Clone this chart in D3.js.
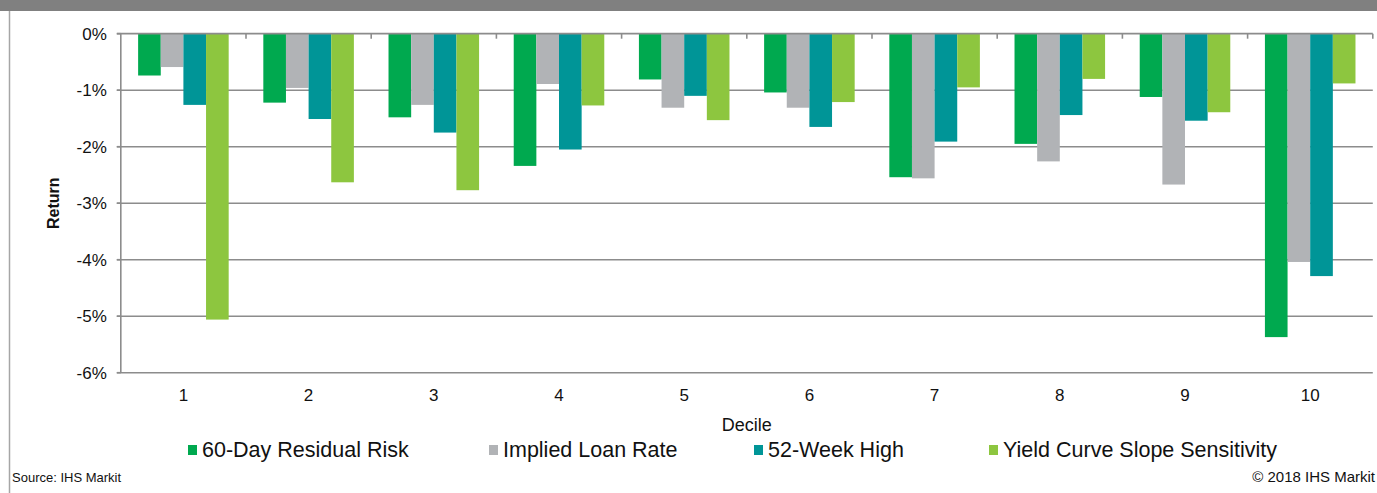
<!DOCTYPE html>
<html>
<head>
<meta charset="utf-8">
<script src="https://cdn.jsdelivr.net/npm/d3@7"></script>
<style>
  body { margin: 0; background: #fff; }
  text { font-family: "Liberation Sans", Arial, sans-serif; fill: #111; }
</style>
</head>
<body>
<div class="chart"></div>
<script>
var svgWidth = 1377;
var svgHeight = 493;

// data (returns in %)
var deciles = ["1", "2", "3", "4", "5", "6", "7", "8", "9", "10"];
var seriesNames = ["60-Day Residual Risk", "Implied Loan Rate", "52-Week High", "Yield Curve Slope Sensitivity"];
var seriesColors = ["#00a94f", "#b1b3b6", "#009597", "#8dc63f"];
var residualRisk = [-0.74, -1.22, -1.48, -2.34, -0.81, -1.04, -2.54, -1.95, -1.12, -5.37];
var impliedLoanRate = [-0.59, -0.96, -1.26, -0.89, -1.31, -1.31, -2.56, -2.26, -2.67, -4.04];
var weekHigh52 = [-1.26, -1.51, -1.75, -2.05, -1.10, -1.65, -1.91, -1.44, -1.54, -4.29];
var yieldCurve = [-5.06, -2.63, -2.77, -1.27, -1.53, -1.21, -0.95, -0.80, -1.39, -0.88];
var yTicks = [0, -1, -2, -3, -4, -5, -6];

var allSeries = [residualRisk, impliedLoanRate, weekHigh52, yieldCurve];

var plotLeft = 120.8, plotRight = 1372.8;
var plotTop = 33.7, plotBottom = 372.7;

var svg = d3.select(".chart")
  .append("svg")
  .attr("width", svgWidth)
  .attr("height", svgHeight);

// header band (title cut off at top)
svg.append("rect")
  .attr("x", 0).attr("y", 0)
  .attr("width", svgWidth).attr("height", 11)
  .attr("fill", "#808080");

// left frame line
svg.append("line")
  .attr("x1", 9.5).attr("x2", 9.5)
  .attr("y1", 11).attr("y2", svgHeight)
  .attr("stroke", "#a6a6a6").attr("stroke-width", 1.5);

// scales
var x = d3.scaleBand()
  .domain(deciles)
  .range([plotLeft, plotRight])
  .padding(0);

var xInner = d3.scaleBand()
  .domain(d3.range(seriesNames.length))
  .range([0, x.bandwidth()])
  .paddingInner(0)
  .paddingOuter(0.765);

var y = d3.scaleLinear()
  .domain([0, -6])
  .range([plotTop, plotBottom]);

// gridlines
svg.append("g")
  .selectAll("line")
  .data(yTicks.filter(d => d !== 0))
  .enter()
  .append("line")
  .attr("x1", plotLeft - 4)
  .attr("x2", plotRight)
  .attr("y1", d => y(d))
  .attr("y2", d => y(d))
  .attr("stroke", "#8c8c8c")
  .attr("stroke-width", 1.6);

// y axis
var leftAxis = d3.axisLeft(y)
  .tickValues(yTicks)
  .tickSize(0)
  .tickPadding(14)
  .tickFormat(d => d + "%");

var yAxisG = svg.append("g")
  .attr("transform", `translate(${plotLeft}, 0)`)
  .call(leftAxis);
yAxisG.select(".domain").remove();
yAxisG.selectAll("text")
  .style("font-size", "17px")
  .attr("fill", "#111");

svg.append("line")
  .attr("x1", plotLeft).attr("x2", plotLeft)
  .attr("y1", plotTop).attr("y2", plotBottom)
  .attr("stroke", "#8c8c8c").attr("stroke-width", 1.6);

// bars
var groups = svg.append("g")
  .selectAll("g")
  .data(deciles)
  .enter()
  .append("g")
  .attr("transform", d => `translate(${x(d)}, 0)`);

groups.selectAll("rect")
  .data((d, i) => allSeries.map((s, k) => ({ k: k, v: s[i] })))
  .enter()
  .append("rect")
  .attr("x", d => xInner(d.k))
  .attr("y", y(0))
  .attr("width", xInner.bandwidth())
  .attr("height", d => y(d.v) - y(0))
  .attr("fill", d => seriesColors[d.k]);

// x axis at zero, ticks between categories pointing down
var boundaries = deciles.slice(1).map(d => x(d));
boundaries.push(plotRight);
svg.append("g")
  .selectAll("line")
  .data(boundaries)
  .enter()
  .append("line")
  .attr("x1", d => d).attr("x2", d => d)
  .attr("y1", plotTop).attr("y2", plotTop + 5)
  .attr("stroke", "#8c8c8c").attr("stroke-width", 1.6);

svg.append("line")
  .attr("x1", plotLeft - 4).attr("x2", plotRight)
  .attr("y1", plotTop).attr("y2", plotTop)
  .attr("stroke", "#8c8c8c").attr("stroke-width", 1.8);

// y tick marks
svg.append("g")
  .selectAll("line")
  .data(yTicks)
  .enter()
  .append("line")
  .attr("x1", plotLeft - 4).attr("x2", plotLeft)
  .attr("y1", d => y(d)).attr("y2", d => y(d))
  .attr("stroke", "#8c8c8c").attr("stroke-width", 1.6);

// category labels
svg.append("g")
  .selectAll("text")
  .data(deciles)
  .enter()
  .append("text")
  .attr("x", d => x(d) + x.bandwidth() / 2)
  .attr("y", 401)
  .attr("text-anchor", "middle")
  .style("font-size", "17px")
  .text(d => d);

// axis titles
svg.append("text")
  .attr("x", (plotLeft + plotRight) / 2)
  .attr("y", 431)
  .attr("text-anchor", "middle")
  .style("font-size", "18px")
  .text("Decile");

svg.append("text")
  .attr("transform", `translate(59, ${(plotTop + plotBottom) / 2}) rotate(-90)`)
  .attr("text-anchor", "middle")
  .style("font-size", "16px")
  .style("font-weight", "bold")
  .text("Return");

// legend
var legendX = [188, 489, 754, 989];
var legend = svg.append("g")
  .selectAll("g")
  .data(seriesNames)
  .enter()
  .append("g")
  .attr("transform", (d, i) => `translate(${legendX[i]}, 0)`);

legend.append("rect")
  .attr("x", 0).attr("y", 445)
  .attr("width", 9).attr("height", 10)
  .attr("fill", (d, i) => seriesColors[i]);

legend.append("text")
  .attr("x", 14)
  .attr("y", 456.7)
  .style("font-size", "21.5px")
  .text(d => d);

// footer
svg.append("text")
  .attr("x", 12).attr("y", 482)
  .style("font-size", "13px")
  .text("Source: IHS Markit");

svg.append("text")
  .attr("x", 1375).attr("y", 482)
  .attr("text-anchor", "end")
  .style("font-size", "15px")
  .text("© 2018 IHS Markit");
</script>
</body>
</html>
